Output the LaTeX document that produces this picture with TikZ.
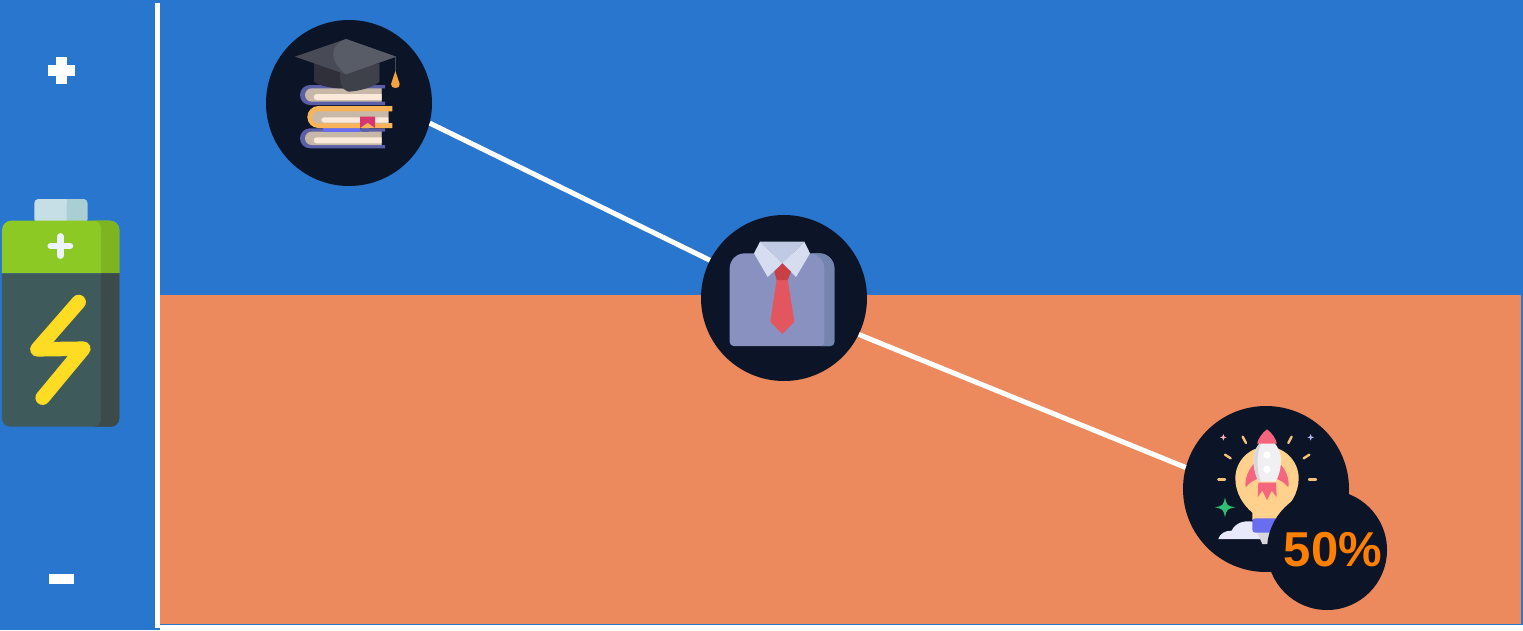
\documentclass[tikz,border=0pt]{standalone}
\usepackage{fontspec}
\setmainfont{Liberation Sans}
\definecolor{skyblue}{HTML}{2876CE}
\definecolor{peach}{HTML}{EC895D}
\definecolor{ink}{HTML}{0C1427}
\definecolor{pct}{HTML}{FF7F00}
\definecolor{cover}{HTML}{5B5FA6}
\definecolor{pagesd}{HTML}{C8B8A8}
\definecolor{cream}{HTML}{FBE9D9}
\definecolor{bookor}{HTML}{F9B45A}
\definecolor{bookmarkc}{HTML}{D8366F}
\definecolor{hatl}{HTML}{585C67}
\definecolor{hatm}{HTML}{484B55}
\definecolor{hatd}{HTML}{2F3039}
\definecolor{hate}{HTML}{3E4149}
\definecolor{tassel}{HTML}{F2A340}
\definecolor{shirtc}{HTML}{8891BF}
\definecolor{shirtd}{HTML}{7384AE}
\definecolor{collarb}{HTML}{C0CAE2}
\definecolor{collarl}{HTML}{D6DDF0}
\definecolor{knotc}{HTML}{C84046}
\definecolor{tiec}{HTML}{E3565F}
\definecolor{bulbc}{HTML}{FFD18C}
\definecolor{baseb}{HTML}{696DF0}
\definecolor{cloudc}{HTML}{E8E9FB}
\definecolor{starc}{HTML}{2FBF71}
\definecolor{rayc}{HTML}{F3C27A}
\definecolor{rosec}{HTML}{F5667E}
\definecolor{hullc}{HTML}{F0F0F2}
\definecolor{hulld}{HTML}{D8D8DC}
\definecolor{capl}{HTML}{C6DFE6}
\definecolor{capd}{HTML}{A9CED3}
\definecolor{grn}{HTML}{8CC925}
\definecolor{grnd}{HTML}{7DB41F}
\definecolor{slatec}{HTML}{3F5A5A}
\definecolor{slated}{HTML}{3C4A4A}
\definecolor{boltc}{HTML}{FFDC24}
\tikzset{
  disc/.style={circle,fill=ink,draw=none,inner sep=0pt,minimum size=#1},
  link/.style={draw=white,line width=5pt},
  icon/.style={x=0.33333pt,y=-0.33333pt}
}
\newcommand{\fourstar}[4]{\fill[#4] (#1,#2-#3) .. controls (#1+.18*#3,#2-.18*#3) .. (#1+#3,#2) .. controls (#1+.18*#3,#2+.18*#3) .. (#1,#2+#3) .. controls (#1-.18*#3,#2+.18*#3) .. (#1-#3,#2) .. controls (#1-.18*#3,#2-.18*#3) .. (#1,#2-#3) -- cycle;}
\newcommand{\bookrow}[2]{% y offset, cover colour
  \fill[#2] (375,#1+8) -- (150,#1+8) arc[start angle=-90,end angle=-270,radius=30] -- (375,#1+68) -- (375,#1+58) -- (365,#1+58) -- (365,#1+18) -- (375,#1+18) -- cycle;
  \fill[pagesd] (365,#1+18) -- (155,#1+18) arc[start angle=-90,end angle=-270,radius=20] -- (365,#1+58) -- cycle;
  \fill[cream] (365,#1+35) -- (170,#1+35) arc[start angle=-90,end angle=-270,radius=9] -- (365,#1+53) -- cycle;
}
\begin{document}
\begin{tikzpicture}[x=1pt,y=-1pt]
\useasboundingbox (0,0) rectangle (1523,630);
% backgrounds
\fill[skyblue] (0,0) rectangle (1523,630);
\fill[white] (160,625) rectangle (1523,630);
\fill[peach] (160,295) rectangle (1521,624);
\fill[white] (155,3) rectangle (160,628);
% plus and minus
\fill[white] (48,65) rectangle (75,76);
\fill[white] (56,57) rectangle (67,84);
\fill[white] (49,574) rectangle (74,584);
% battery
\begin{scope}[shift={(0,190)},icon]
  \fill[capl,rounded corners=4pt] (103,100) rectangle (262,27);
  \fill[capd,rounded corners=4pt] (200,100) -- (200,27) -- (262,27) -- (262,100) -- cycle;
  \fill[capd] (200,27) rectangle (225,100);
  \fill[grn] (6,250) -- (6,120) arc[start angle=-180,end angle=-90,radius=28] -- (330,92) arc[start angle=-90,end angle=0,radius=28] -- (358,250) -- cycle;
  \fill[grnd] (280,92) -- (330,92) arc[start angle=-90,end angle=0,radius=28] -- (358,250) -- (303,250) -- (303,118) .. controls (303,100) and (295,92) .. (280,92) -- cycle;
  \fill[slatec] (6,250) -- (358,250) -- (358,685) arc[start angle=0,end angle=90,radius=25] -- (31,710) arc[start angle=90,end angle=180,radius=25] -- cycle;
  \fill[slated] (303,250) -- (358,250) -- (358,685) arc[start angle=0,end angle=90,radius=25] -- (280,710) .. controls (295,710) and (303,700) .. (303,685) -- cycle;
  \draw[color=white!92!skyblue,line width=6.5pt,line cap=round] (152,168) -- (210,168);
  \draw[color=white!92!skyblue,line width=6.5pt,line cap=round] (181,139) -- (181,197);
  \draw[color=boltc,line width=14.5pt,line cap=round,line join=round] (236,336) -- (112,478) -- (250,476) -- (128,623);
\end{scope}
% main nodes
\node[disc=166pt] (edu) at (349,103) {};
\node[disc=166pt] (job) at (784,298) {};
\node[disc=166pt] (idea) at (1266,489) {};
\draw[link] (edu.-14.5) -- (job.153.4);
\draw[link] (job.-26) -- (idea.165);
% books and cap
\begin{scope}[shift={(260,10)},icon]
  \bookrow{347}{cover}
  \fill[baseb] (190,352) rectangle (300,365);
  \fill[cover] (305,352) rectangle (328,367);
  \bookrow{217}{cover}
  \fill[bookor] (397,288) -- (175,288) arc[start angle=-90,end angle=-270,radius=33] -- (397,354) -- (397,339) -- (385,339) -- (385,304) -- (397,304) -- cycle;
  \fill[pagesd] (385,304) -- (175,304) arc[start angle=-90,end angle=-270,radius=18] -- (385,340) -- cycle;
  \fill[cream] (385,322) -- (192,322) arc[start angle=-90,end angle=-270,radius=8] -- (385,338) -- cycle;
  \fill[bookmarkc] (300,320) -- (345,320) -- (345,354) -- (323,338) -- (300,354) -- cycle;
  \fill[hatd] (162,160) -- (358,160) -- (358,215) .. controls (330,240) and (200,245) .. (162,215) -- cycle;
  \fill[hate] (240,190) -- (358,160) -- (358,215) .. controls (340,232) and (300,243) .. (265,245) .. controls (250,240) and (240,225) .. (240,205) -- cycle;
  \fill[hatm] (105,140) -- (258,87) -- (408,140) -- (258,193) -- cycle;
  \fill[hatl] (258,87) -- (408,140) -- (258,193) .. controls (235,175) and (220,155) .. (220,130) .. controls (220,110) and (235,95) .. (258,87) -- cycle;
  \draw[color=hatm,line width=1pt] (406,140) -- (406,188);
  \fill[tassel] (406,183) -- (419,222) .. controls (423,238) and (391,238) .. (393,222) -- cycle;
\end{scope}
% shirt
\begin{scope}[shift={(695,210)},icon]
  \fill[shirtc] (104,175) arc[start angle=-180,end angle=-90,radius=45] -- (373,130) arc[start angle=-90,end angle=0,radius=45] -- (418,396) arc[start angle=0,end angle=90,radius=12] -- (116,408) arc[start angle=90,end angle=180,radius=12] -- cycle;
  \fill[shirtd] (350,130) -- (373,130) arc[start angle=-90,end angle=0,radius=45] -- (418,396) arc[start angle=0,end angle=90,radius=12] -- (378,408) .. controls (385,408) and (388,402) .. (388,396) -- (388,175) .. controls (388,150) and (372,135) .. (350,130) -- cycle;
  \fill[collarb] (195,95) -- (328,95) -- (262,160) -- cycle;
  \fill[collarl] (195,95) -- (262,160) -- (218,201) -- (177,130) -- cycle;
  \fill[collarl] (328,95) -- (262,160) -- (303,201) -- (345,130) -- cycle;
  \fill[tiec] (245,208) -- (278,208) -- (298,335) -- (262,372) -- (226,335) -- cycle;
  \fill[knotc] (262,160) -- (288,185) -- (278,210) -- (245,210) -- (238,185) -- cycle;
\end{scope}
% rocket and bulb
\begin{scope}[shift={(1175,400)},icon]
  \fill[cloudc] (130,417) .. controls (135,400) and (150,392) .. (170,392) .. controls (180,370) and (205,360) .. (235,365) -- (260,417) -- cycle;
  \fill[hulld] (245,395) -- (300,395) -- (285,432) -- (262,432) -- cycle;
  \fill[bulbc] (232,360) -- (232,338) .. controls (205,315) and (181,280) .. (181,235) arc[start angle=-180,end angle=0,radius=95] .. controls (371,280) and (345,315) .. (320,338) -- (320,360) -- cycle;
  \fill[baseb,rounded corners=3pt] (232,355) -- (320,355) -- (320,398) -- (232,398) -- cycle;
  \fill[rosec] (238,190) .. controls (220,210) and (208,235) .. (212,262) .. controls (225,245) and (240,240) .. (250,235) -- cycle;
  \fill[rosec] (314,190) .. controls (332,210) and (344,235) .. (340,262) .. controls (327,245) and (312,240) .. (302,235) -- cycle;
  \fill[rosec] (250,248) -- (303,248) -- (305,291) -- (290,272) -- (276,300) -- (262,272) -- (248,291) -- cycle;
  \fill[hullc] (255,128) .. controls (240,145) and (234,165) .. (236,190) .. controls (238,215) and (245,235) .. (252,245) -- (302,245) .. controls (310,230) and (318,210) .. (318,180) .. controls (318,160) and (310,142) .. (298,128) -- cycle;
  \fill[hulld] (255,128) .. controls (240,145) and (234,165) .. (236,190) .. controls (238,215) and (245,235) .. (252,245) -- (257,245) .. controls (247,215) and (241,170) .. (259,128) -- cycle;
  \fill[rosec] (276,88) .. controls (262,98) and (250,115) .. (246,131) -- (306,131) .. controls (302,115) and (290,98) .. (276,88) -- cycle;
  \fill[white] (276,165) circle[radius=11];
  \fill[white] (276,208) circle[radius=11];
  \foreach \a/\b/\c/\d in {203/110/213/129,350/110/340/129,150/164/167/175,403/164/386/175,130/238/150/238,402/238/423/238}
    \draw[color=rayc,line width=2.4pt,line cap=round] (\a,\b) -- (\c,\d);
  \fourstar{150}{322}{30}{starc}
  \fourstar{145}{112}{10}{rosec!50!white}
  \fourstar{407}{112}{10}{baseb!50!white}
\end{scope}
\node[disc=120pt,text=pct,font=\bfseries\fontsize{49}{49}\selectfont] (share) at (1327,550) {\hspace*{12pt}50\%};
\end{tikzpicture}
\end{document}
